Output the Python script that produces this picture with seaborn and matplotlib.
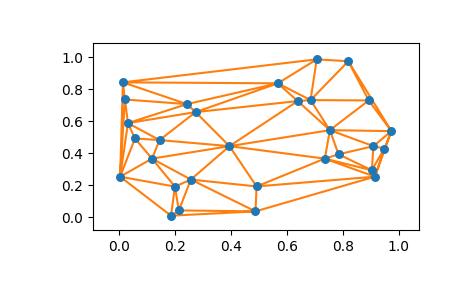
import matplotlib
matplotlib.use("Agg")
import matplotlib.pyplot as plt
import matplotlib.tri as mtri
import seaborn as sns
import pandas as pd

x = [0.014, 0.021, 0.243, 0.274, 0.032, 0.057, 0.145,
     0.707, 0.820, 0.568, 0.639, 0.685, 0.893, 0.754, 0.974,
     0.395, 0.118, 0.004, 0.257, 0.200, 0.492, 0.214, 0.186, 0.488,
     0.910, 0.949, 0.785, 0.736, 0.904, 0.915]
y = [0.843, 0.736, 0.707, 0.657, 0.588, 0.492, 0.482,
     0.987, 0.975, 0.837, 0.726, 0.732, 0.730, 0.544, 0.538,
     0.444, 0.366, 0.253, 0.235, 0.191, 0.192, 0.042, 0.009, 0.036,
     0.444, 0.429, 0.393, 0.366, 0.293, 0.253]

df = pd.DataFrame({"x": x, "y": y})

fig, ax = plt.subplots(figsize=(4.65, 2.88), dpi=100)
fig.subplots_adjust(left=0.2, right=0.9, bottom=0.2, top=0.85)

tri = mtri.Triangulation(df["x"], df["y"])
ax.triplot(tri, color="C1", lw=1.5, zorder=1)
sns.scatterplot(data=df, x="x", y="y", ax=ax, color="C0", s=42,
                linewidth=0, zorder=2)
ax.set_xlabel("")
ax.set_ylabel("")
ax.set_xlim(-0.093, 1.071)
ax.set_ylim(-0.083, 1.088)
fig.savefig("out.png", dpi=100)
